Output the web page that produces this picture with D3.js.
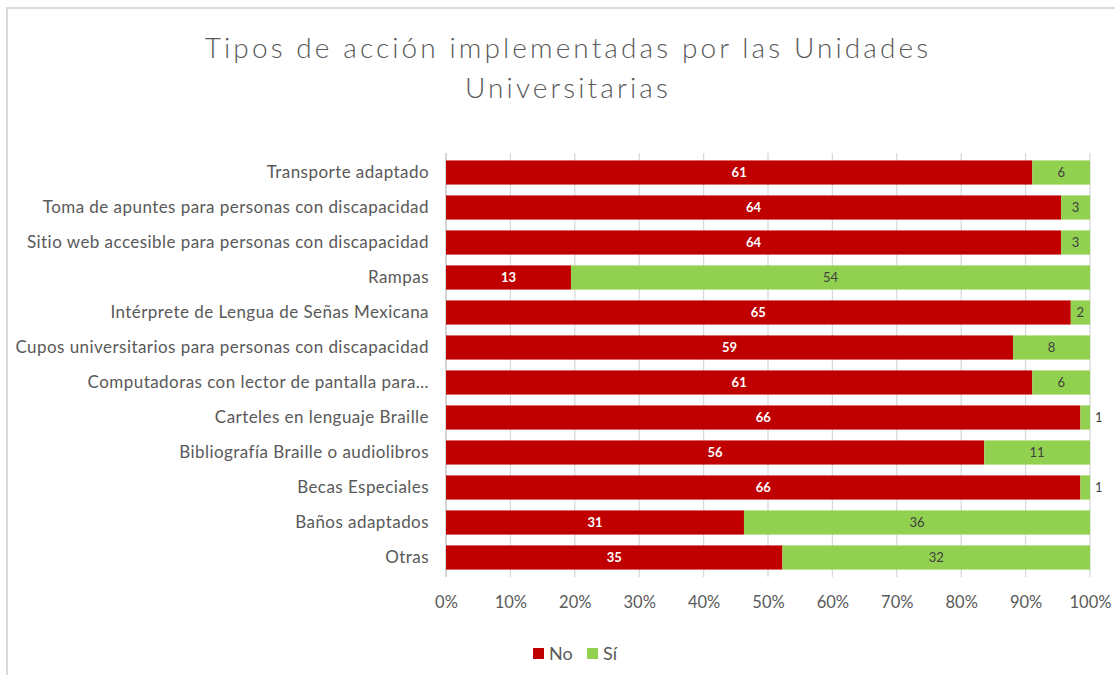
<!DOCTYPE html>
<html>
<head>
<meta charset="utf-8">
<script src="https://cdn.jsdelivr.net/npm/d3@7"></script>
<style>
  body { margin: 0; background: #fff; }
  svg { display: block; }
  text { font-family: Lato, "Open Sans", sans-serif; }
</style>
</head>
<body>
<svg id="chart" width="1115" height="675"></svg>
<script>
// data
const categories = [
  "Transporte adaptado",
  "Toma de apuntes para personas con discapacidad",
  "Sitio web accesible para personas con discapacidad",
  "Rampas",
  "Intérprete de Lengua de Señas Mexicana",
  "Cupos universitarios para personas con discapacidad",
  "Computadoras con lector de pantalla para…",
  "Carteles en lenguaje Braille",
  "Bibliografía Braille o audiolibros",
  "Becas Especiales",
  "Baños adaptados",
  "Otras"
];
const noValues = [61, 64, 64, 13, 65, 59, 61, 66, 56, 66, 31, 35];
const siValues = [6, 3, 3, 54, 2, 8, 6, 1, 11, 1, 36, 32];
const seriesNames = ["No", "Sí"];
const tickValues = [0, 0.1, 0.2, 0.3, 0.4, 0.5, 0.6, 0.7, 0.8, 0.9, 1];
const titleLines = ["Tipos de acción implementadas por las Unidades", "Universitarias"];

const colors = ["#C00000", "#92D050"];
const svg = d3.select("#chart");

// outer frame (only top/left visible in the picture)
svg.append("rect")
  .attr("x", 7).attr("y", 8)
  .attr("width", 1200).attr("height", 800)
  .attr("fill", "none")
  .attr("stroke", "#d9d9d9")
  .attr("stroke-width", 2);

// title
svg.append("text")
  .attr("x", 568).attr("y", 58)
  .attr("text-anchor", "middle")
  .attr("fill", "#595959")
  .style("font-size", "28px")
  .style("font-weight", 300)
  .style("letter-spacing", "3.1px")
  .selectAll("tspan")
  .data(titleLines)
  .join("tspan")
  .attr("x", 568)
  .attr("dy", (d, i) => i === 0 ? 0 : 40)
  .text(d => d);

const margin = { left: 446, right: 1090, top: 155, bottom: 575 };

const rows = categories.map((c, i) => {
  const total = noValues[i] + siValues[i];
  return { cat: c, no: noValues[i], si: siValues[i], total };
});

const x = d3.scaleLinear().domain([0, 1]).range([margin.left, margin.right]);
const y = d3.scaleBand().domain(categories).range([margin.top, margin.bottom]).paddingInner(0.31).paddingOuter(0.155);

// gridlines
const g = svg.append("g");
g.selectAll("line.grid")
  .data(tickValues)
  .join("line")
  .attr("class", "grid")
  .attr("x1", d => x(d)).attr("x2", d => x(d))
  .attr("y1", margin.top - 2).attr("y2", margin.bottom + 2)
  .attr("stroke", d => d === 0 ? "#bfbfbf" : "#d9d9d9")
  .attr("stroke-width", 1.3);

// x axis labels
const xAxis = d3.axisBottom(x)
  .tickValues(tickValues)
  .tickFormat(d3.format(".0%"))
  .tickSize(0)
  .tickPadding(0);
svg.append("g")
  .attr("transform", `translate(0,${margin.bottom + 20})`)
  .call(xAxis)
  .call(s => s.select(".domain").remove())
  .call(s => s.selectAll("text")
    .attr("fill", "#595959")
    .style("font-size", "16.5px")
    .style("font-family", "Lato, sans-serif")
    .attr("dy", "0.8em"));

// y axis labels
const yAxis = d3.axisLeft(y).tickSize(0).tickPadding(17);
svg.append("g")
  .attr("transform", `translate(${margin.left},0)`)
  .call(yAxis)
  .call(s => s.select(".domain").remove())
  .call(s => s.selectAll("text")
    .attr("fill", "#595959")
    .style("font-size", "17px")
    .style("letter-spacing", "0.45px")
    .style("font-family", "Lato, sans-serif"));

// stacked bars (100%)
const stack = d3.stack().keys(["no", "si"]).value((d, k) => d[k] / d.total);
const layers = stack(rows);

const layerG = svg.append("g").selectAll("g")
  .data(layers)
  .join("g")
  .attr("fill", (d, i) => colors[i]);

layerG.selectAll("rect")
  .data(d => d)
  .join("rect")
  .attr("x", d => x(d[0]))
  .attr("y", d => y(d.data.cat))
  .attr("width", d => x(d[1]) - x(d[0]))
  .attr("height", y.bandwidth());

// value labels
layers.forEach((layer, li) => {
  svg.append("g").selectAll("text")
    .data(layer)
    .join("text")
    .each(function (d) {
      const w = x(d[1]) - x(d[0]);
      const v = d.data[layer.key];
      const t = d3.select(this);
      const outside = w < 14;
      t.attr("x", outside ? x(d[1]) + 5 : (x(d[0]) + x(d[1])) / 2)
        .attr("text-anchor", outside ? "start" : "middle")
        .attr("y", y(d.data.cat) + y.bandwidth() / 2)
        .attr("dy", "0.36em")
        .attr("fill", li === 0 ? "#ffffff" : "#404040")
        .style("font-size", "13px")
        .style("font-weight", li === 0 ? 700 : 400)
        .text(v);
    });
});

// legend
const legend = svg.append("g").attr("transform", "translate(533,648)");
const legendX = [0, 54];
seriesNames.forEach((name, i) => {
  const lg = legend.append("g").attr("transform", `translate(${legendX[i]},0)`);
  lg.append("rect").attr("width", 11).attr("height", 11).attr("fill", colors[i]);
  lg.append("text")
    .attr("x", 16).attr("y", 6)
    .attr("dy", "0.36em")
    .attr("fill", "#595959")
    .style("font-size", "18px")
    .text(name);
});
</script>
</body>
</html>
